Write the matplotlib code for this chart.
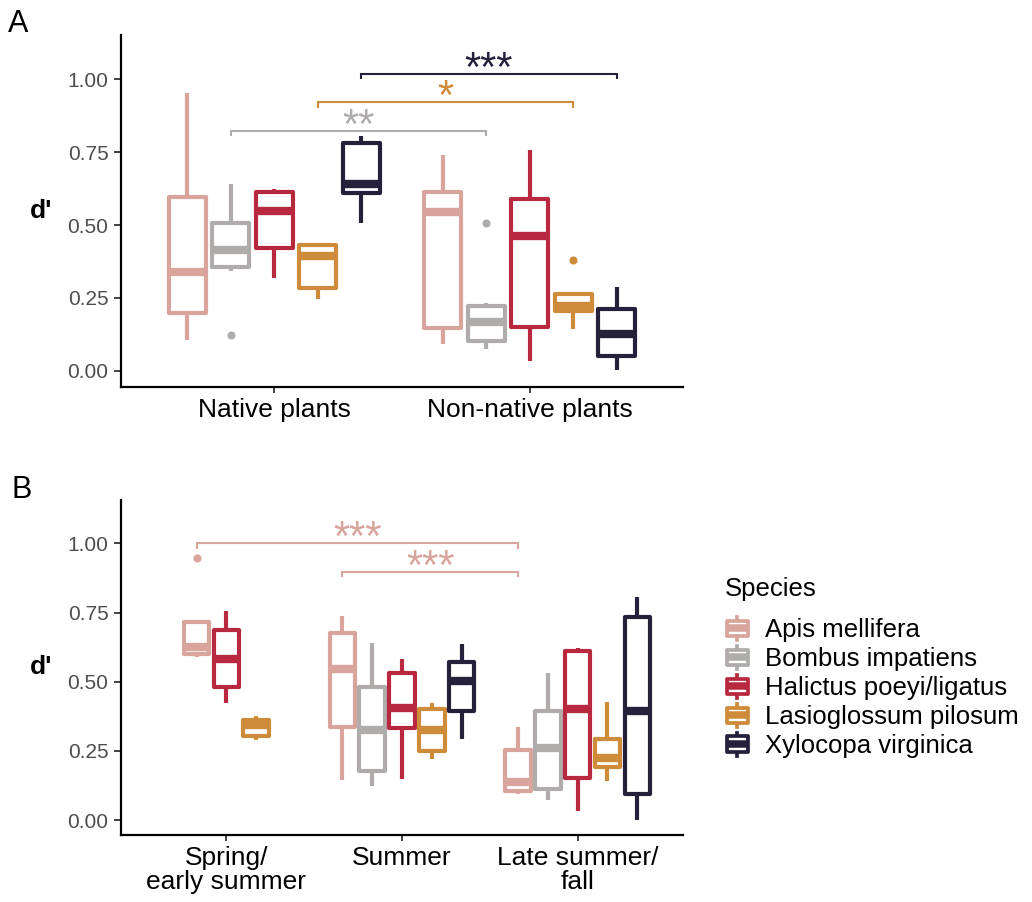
import matplotlib
matplotlib.use("Agg")
import matplotlib.pyplot as plt
from matplotlib.legend_handler import HandlerBase
from matplotlib.patches import Rectangle, Patch
from matplotlib.lines import Line2D

plt.rcParams['font.family'] = ['Liberation Sans', 'DejaVu Sans']

# ---------------- data ----------------
species = ["Apis mellifera", "Bombus impatiens", "Halictus poeyi/ligatus",
           "Lasioglossum pilosum", "Xylocopa virginica"]
colors = ["#D9A49C", "#B1ACAC", "#B8293F", "#CE8B3A", "#26213B"]

plant_groups = ["Native plants", "Non-native plants"]
# rows = species, columns = plant group
A_whislo = [[0.106, 0.092], [0.344, 0.074], [0.317, 0.034], [0.245, 0.143], [0.506, 0.003]]
A_q1     = [[0.198, 0.146], [0.357, 0.104], [0.420, 0.152], [0.285, 0.207], [0.608, 0.051]]
A_med    = [[0.338, 0.546], [0.414, 0.169], [0.549, 0.463], [0.393, 0.222], [0.640, 0.127]]
A_q3     = [[0.595, 0.612], [0.508, 0.224], [0.613, 0.588], [0.430, 0.262], [0.780, 0.211]]
A_whishi = [[0.951, 0.740], [0.640, 0.234], [0.624, 0.757], [0.430, 0.262], [0.805, 0.289]]
A_fliers = [[[], []], [[0.123], [0.506]], [[], []], [[], [0.380]], [[], []]]
# (species index, bracket height, label) native vs non-native
A_sig_species = [1, 3, 4]
A_sig_y = [0.822, 0.920, 1.018]
A_sig_label = ["**", "*", "***"]

seasons = ["Spring/\nearly summer", "Summer", "Late summer/\nfall"]
B_whislo = [[0.590, 0.145, 0.094], [None, 0.124, 0.072], [0.422, 0.148, 0.033],
            [0.289, 0.220, 0.141], [None, 0.292, 0.000]]
B_q1     = [[0.602, 0.337, 0.106], [None, 0.178, 0.114], [0.482, 0.331, 0.151],
            [0.305, 0.251, 0.193], [None, 0.395, 0.094]]
B_med    = [[0.626, 0.546, 0.138], [None, 0.325, 0.259], [0.584, 0.404, 0.400],
            [0.342, 0.325, 0.226], [None, 0.504, 0.395]]
B_q3     = [[0.717, 0.675, 0.253], [None, 0.480, 0.394], [0.687, 0.530, 0.611],
            [0.360, 0.400, 0.292], [None, 0.570, 0.735]]
B_whishi = [[0.717, 0.738, 0.335], [None, 0.639, 0.532], [0.757, 0.584, 0.623],
            [0.376, 0.424, 0.428], [None, 0.636, 0.805]]
B_fliers = [[[0.949], [], []], [[], [], []], [[], [], []], [[], [], []], [[], [], []]]
# (species index, from season, to season, height, label)
B_sig_species = [0, 0]
B_sig_from = [0, 1]
B_sig_to = [2, 2]
B_sig_y = [1.0, 0.897]
B_sig_label = ["***", "***"]

yticks = [0.0, 0.25, 0.50, 0.75, 1.00]
ytick_labels = ["0.00", "0.25", "0.50", "0.75", "1.00"]

# ---------------- style ----------------
LW = 3.0
DODGE = 0.17
BOXW = 0.145
W, H = 1032, 902

fig = plt.figure(figsize=(W / 100, H / 100), dpi=100)
axA = fig.add_axes([121 / W, 1 - 387 / H, (683 - 121) / W, (387 - 35) / H])
axB = fig.add_axes([121 / W, 1 - 835 / H, (683 - 121) / W, (835 - 500) / H])


def positions_for(q1, ngroups):
    pos = {}
    for g in range(ngroups):
        present = [s for s in range(len(species)) if q1[s][g] is not None]
        n = len(present)
        for k, s in enumerate(present):
            pos[(s, g)] = g + 1 + (k - (n - 1) / 2) * DODGE
    return pos


def draw_boxes(ax, whislo, q1, med, q3, whishi, fliers, ngroups):
    pos = positions_for(q1, ngroups)
    for (s, g), x in pos.items():
        c = colors[s]
        st = dict(whislo=whislo[s][g], q1=q1[s][g], med=med[s][g], q3=q3[s][g],
                  whishi=whishi[s][g], fliers=fliers[s][g])
        ax.bxp([st], positions=[x], widths=BOXW, patch_artist=True, showcaps=False,
               manage_ticks=False,
               boxprops=dict(facecolor='white', edgecolor=c, linewidth=LW, joinstyle='round'),
               whiskerprops=dict(color=c, linewidth=LW, solid_capstyle='butt'),
               medianprops=dict(color=c, linewidth=2 * LW, solid_capstyle='butt'),
               flierprops=dict(marker='o', markerfacecolor=c, markeredgecolor=c,
                               markersize=4.8, linestyle='none'))
    return pos


def bracket(ax, x1, x2, y, tick, color, label):
    ax.plot([x1, x1, x2, x2], [y - tick, y, y, y - tick], color=color, lw=1.5,
            solid_joinstyle='miter', solid_capstyle='butt', zorder=5)
    ax.annotate(label, xy=((x1 + x2) / 2, y), xytext=(0, -5.0), textcoords='offset points',
                ha='center', va='baseline', fontsize=30, color=color)


def style_axis(ax, ncat, labels, ylim):
    ax.set_xlim(0.4, ncat + 0.6)
    ax.set_ylim(*ylim)
    ax.set_xticks(range(1, ncat + 1))
    ax.set_xticklabels(labels, fontsize=19, color='black', linespacing=0.98)
    ax.set_yticks(yticks)
    ax.set_yticklabels(ytick_labels, fontsize=15, color='#4D4D4D')
    for sp in ['top', 'right']:
        ax.spines[sp].set_visible(False)
    for sp in ['left', 'bottom']:
        ax.spines[sp].set_linewidth(1.6)
        ax.spines[sp].set_color('black')
    ax.tick_params(axis='y', length=5, width=1.3, color='#333333', pad=4)
    ax.tick_params(axis='x', length=4, width=1.3, color='#333333', pad=4)
    ax.set_ylabel("d'", rotation=0, fontsize=19, fontweight='bold', ha='center', va='center')
    ax.yaxis.set_label_coords(-0.142, 0.5)


# Panel A
posA = draw_boxes(axA, A_whislo, A_q1, A_med, A_q3, A_whishi, A_fliers, 2)
style_axis(axA, 2, plant_groups, (-0.055, 1.151))
for s, y, lab in zip(A_sig_species, A_sig_y, A_sig_label):
    bracket(axA, posA[(s, 0)], posA[(s, 1)], y, 0.018, colors[s], lab)

# Panel B
posB = draw_boxes(axB, B_whislo, B_q1, B_med, B_q3, B_whishi, B_fliers, 3)
style_axis(axB, 3, seasons, (-0.054, 1.157))
for s, g1, g2, y, lab in zip(B_sig_species, B_sig_from, B_sig_to, B_sig_y, B_sig_label):
    bracket(axB, posB[(s, g1)], posB[(s, g2)], y, 0.019, colors[s], lab)

fig.text(8 / W, 1 - 32 / H, "A", fontsize=22, va='baseline', ha='left')
fig.text(12 / W, 1 - 498 / H, "B", fontsize=22, va='baseline', ha='left')


# Legend with mini boxplot keys
class BoxHandler(HandlerBase):
    def create_artists(self, legend, orig_handle, xdescent, ydescent, width, height,
                       fontsize, trans):
        c = orig_handle.get_edgecolor()
        x0, y0 = -xdescent, -ydescent
        bw = width * 0.85
        bx = x0 + (width - bw) / 2
        bh = height * 0.66
        by = y0 + (height - bh) / 2
        cx = x0 + width / 2
        rect = Rectangle((bx, by), bw, bh, facecolor='white', edgecolor=c, lw=LW * 0.9,
                         joinstyle='round', transform=trans)
        w1 = Line2D([cx, cx], [by + bh, y0 + height * 1.0], color=c, lw=LW * 0.9, transform=trans)
        w2 = Line2D([cx, cx], [by, y0], color=c, lw=LW * 0.9, transform=trans)
        m = Line2D([bx, bx + bw], [by + bh / 2] * 2, color=c, lw=1.8 * LW,
                   solid_capstyle='butt', transform=trans)
        return [w1, w2, rect, m]


handles = [Patch(edgecolor=c, facecolor='white') for c in colors]
leg = fig.legend(handles, species, handler_map={Patch: BoxHandler()},
                 loc='upper left', bbox_to_anchor=(725 / W, 1 - 577 / H),
                 bbox_transform=fig.transFigure, frameon=False, title='Species',
                 fontsize=18.5, title_fontsize=18.5, alignment='left',
                 handlelength=0.95, handleheight=1.0, handletextpad=0.6,
                 labelspacing=0.14, borderpad=0, borderaxespad=0)
leg._legend_box.sep = 11.5

fig.savefig("out.png", dpi=100)
